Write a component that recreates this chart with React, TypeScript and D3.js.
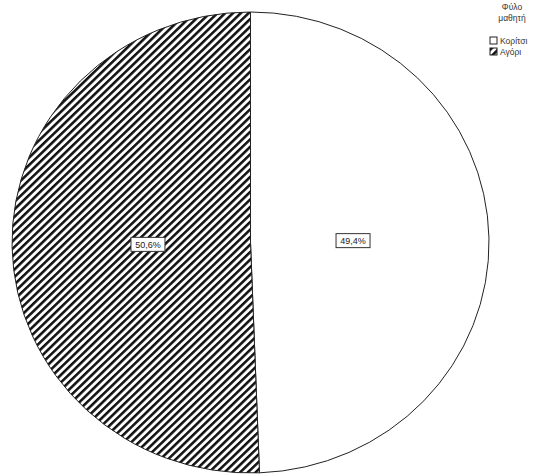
import React from "react";
import * as d3 from "d3";

const categories = ["Κορίτσι", "Αγόρι"];
const values = [49.4, 50.6];
const labels = ["49,4%", "50,6%"];
const legendTitle = ["Φύλο", "μαθητή"];

export default function App() {
  const width = 542, height = 476;
  const cx = 250.5, cy = 242.5, rx = 238.5, ry = 230.5;
  const sy = ry / rx;
  const pie = d3.pie<number>().sort(null).startAngle(0).endAngle(2 * Math.PI)(values);
  const arc = d3.arc<d3.PieArcDatum<number>>().innerRadius(0).outerRadius(rx);
  const labelArc = d3.arc<d3.PieArcDatum<number>>().innerRadius(rx * 0.43).outerRadius(rx * 0.43);
  const fills = ["#ffffff", "url(#hatch)"];
  return (
    <svg width={width} height={height} style={{ position: "absolute", left: 0, top: 0, fontFamily: "Liberation Sans, Arial, sans-serif" }}>
      <defs>
        <pattern id="hatch" patternUnits="userSpaceOnUse" width={5.5} height={5.5} patternTransform="rotate(45)">
          <rect width={5.5} height={5.5} fill="#ffffff" />
          <rect width={2.6} height={5.5} fill="#111" />
        </pattern>
      </defs>
      <rect width={width} height={height} fill="#fff" />
      <g transform={`translate(${cx},${cy}) scale(1,${sy})`}>
        {pie.map((d, i) => (
          <path key={i} d={arc(d) || ""} fill={fills[i]} stroke="#222" strokeWidth={1} vectorEffect="non-scaling-stroke" />
        ))}
      </g>
      <g transform={`translate(${cx},${cy})`}>
        {pie.map((d, i) => {
          const [x, y] = labelArc.centroid(d);
          return (
            <g key={"l" + i} transform={`translate(${x},${y * sy})`}>
              <rect x={-17} y={-7} width={34} height={14} fill="#fff" stroke="#333" strokeWidth={1} />
              <text textAnchor="middle" dy="0.35em" fontSize={9} fill="#222">{labels[i]}</text>
            </g>
          );
        })}
      </g>
      <g>
        {legendTitle.map((t, i) => (
          <text key={t} x={512} y={10 + i * 11} textAnchor="middle" fontSize={8.5} fill="#333">{t}</text>
        ))}
        {categories.map((c, i) => (
          <g key={c} transform={`translate(490,${37 + i * 11})`}>
            <rect width={7} height={7} fill={fills[i]} stroke="#222" strokeWidth={1} />
            <text x={10} y={6.5} fontSize={8.5} fill="#333">{c}</text>
          </g>
        ))}
      </g>
    </svg>
  );
}
